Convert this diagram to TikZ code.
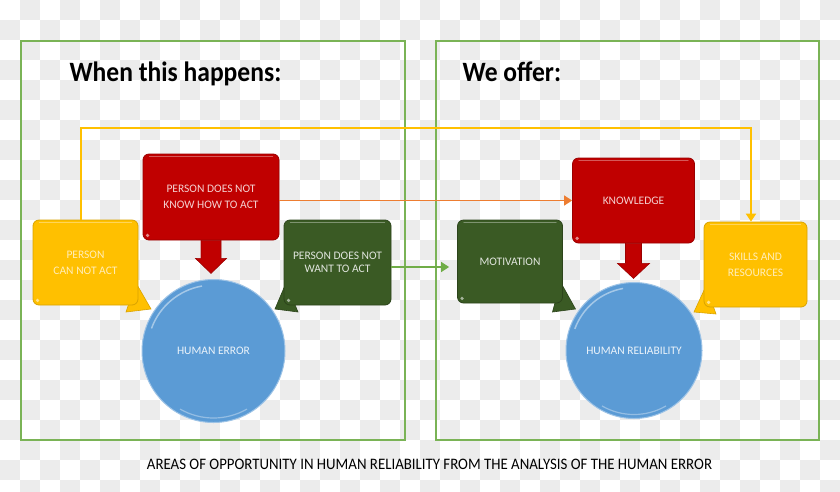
\documentclass[tikz,border=0pt]{standalone}
\usepackage{fontspec}
\setmainfont{Carlito}
\usetikzlibrary{arrows.meta,calc}
\definecolor{checkgrey}{HTML}{ECECEC}
\definecolor{framegreen}{HTML}{7AB356}
\definecolor{cyellow}{HTML}{FFC000}
\definecolor{cred}{HTML}{C00000}
\definecolor{cdgreen}{HTML}{3A5A24}
\definecolor{cblue}{HTML}{5B9BD5}
\definecolor{corange}{HTML}{ED7D31}
\definecolor{cgreen}{HTML}{70AD47}
\tikzset{
  frame/.style={draw=framegreen,line width=1.2pt},
  boxbase/.style={rectangle,rounded corners=6pt,line width=0.8pt,align=center,
    font=\fontsize{11.5}{16}\selectfont,inner sep=2pt},
  ybox/.style={boxbase,fill=cyellow,draw=cyellow!85!black,text=white!72!cyellow},
  rbox/.style={boxbase,fill=cred,draw=cred!80!black,text=white!82!cred},
  gbox/.style={boxbase,fill=cdgreen,draw=cdgreen!75!black,text=white!85!cdgreen},
  ball/.style={circle,fill=cblue,draw=cblue!60!white,line width=1pt,text=white!88!cblue,
    font=\fontsize{11.5}{13}\selectfont,inner sep=0pt},
  title/.style={anchor=base west,font=\fontsize{28}{30}\selectfont\bfseries,text=black},
  tip/.style={-{Triangle[length=8pt,width=10pt]}},
  yline/.style={draw=cyellow,line width=2.2pt},
  oline/.style={draw=corange,line width=1.6pt},
  gline/.style={draw=cgreen,line width=1.6pt},
  gloss/.style={draw=white,opacity=.35,line width=1.6pt,line cap=round}
}
\newcommand{\glossbox}[1]{%
  \draw[gloss] ($(#1.north west)+(7,3)$) -- ($(#1.north east)+(-7,3)$);
  \fill[white,opacity=.55] ($(#1.south west)+(5,-5)$) circle (1.8pt);}
\begin{document}
\begin{tikzpicture}[x=1pt,y=-1pt]
\useasboundingbox (0,0) rectangle (840,491);
% checkerboard background
\begin{scope}
\clip (0,0) rectangle (840,491);
\fill[white] (0,0) rectangle (840,491);
\foreach \i in {0,...,41}{
  \foreach \j in {0,...,24}{
    \pgfmathtruncatemacro\cbpar{mod(\i+\j,2)}
    \ifnum\cbpar=1 \fill[checkgrey] (\i*20,\j*20) rectangle ++(20,20);\fi
  }}
\end{scope}
% frames
\draw[frame] (21,41) rectangle (405,440);
\draw[frame] (436,41) rectangle (819,440);
% titles
\node[title] (t1) at (66,81) {\scalebox{0.913}[1]{When this happens:}};
\node[title] (t2) at (459,81) {\scalebox{0.913}[1]{We offer:}};
% circles
\node[ball,minimum size=143pt] (err) at (213.5,351) {HUMAN ERROR};
\node[ball,minimum size=136pt] (rel) at (634,350.5) {HUMAN RELIABILITY};
\draw[white,opacity=.45,line width=1.5pt] ($(err.center)+(200:66)$) arc[start angle=200,end angle=260,radius=66];
\draw[white,opacity=.45,line width=1.5pt] ($(rel.center)+(200:63)$) arc[start angle=200,end angle=260,radius=63];
\draw[white,opacity=.35,line width=1.2pt] ($(err.center)+(60:67)$) arc[start angle=60,end angle=120,radius=67];
\draw[white,opacity=.35,line width=1.2pt] ($(rel.center)+(60:64)$) arc[start angle=60,end angle=120,radius=64];
% boxes (positions)
\path (211,197) node[rbox,minimum width=136pt,minimum height=86pt] (red1) {PERSON DOES NOT\\KNOW HOW TO ACT};
\path (85.5,262.5) coordinate (yelc);
\path (337.5,262.5) coordinate (grnc);
\path (510,261.5) coordinate (motc);
\path (755.5,264.5) coordinate (skc);
% callout tails (drawn before the boxes)
\fill[cyellow,draw=cyellow!85!black,line width=.6pt] ($(yelc)+(52.5,42.5)+(-2,-22)$) -- ($(yelc)+(52.5,42.5)+(13,4)$) -- ($(yelc)+(52.5,42.5)+(-12,7)$) -- cycle;
\fill[cdgreen,draw=cdgreen!75!black,line width=.6pt] ($(grnc)+(-53.5,42.5)+(2,-22)$) -- ($(grnc)+(-53.5,42.5)+(-9,4)$) -- ($(grnc)+(-53.5,42.5)+(14,7)$) -- cycle;
\fill[cdgreen,draw=cdgreen!75!black,line width=.6pt] ($(motc)+(52.5,41.5)+(-2,-21)$) -- ($(motc)+(52.5,41.5)+(13,6)$) -- ($(motc)+(52.5,41.5)+(-10,9)$) -- cycle;
\fill[cyellow,draw=cyellow!85!black,line width=.6pt] ($(skc)+(-51.5,42.5)+(2,-21)$) -- ($(skc)+(-51.5,42.5)+(-10,5)$) -- ($(skc)+(-51.5,42.5)+(12,7)$) -- cycle;
\node[ybox,minimum width=105pt,minimum height=85pt] (yel1) at (yelc) {PERSON\\CAN NOT ACT};
\node[gbox,minimum width=107pt,minimum height=85pt,font=\fontsize{11.5}{12.5}\selectfont] (grn1) at (grnc) {PERSON DOES NOT\\WANT TO ACT};
\node[gbox,minimum width=105pt,minimum height=83pt] (mot) at (motc) {MOTIVATION};
\node[rbox,minimum width=122pt,minimum height=85pt] (know) at (633.5,200.5) {KNOWLEDGE};
\node[ybox,minimum width=103pt,minimum height=85pt] (skill) at (skc) {SKILLS AND\\RESOURCES};
\glossbox{red1}\glossbox{yel1}\glossbox{grn1}\glossbox{mot}\glossbox{know}\glossbox{skill}
% block arrows down
\fill[cred,draw=cred!80!black,line width=.6pt] ($(red1.south)+(-10,0)$) -- ++(0,18) -- ++(-5.5,0) -- ++(15.5,15) -- ++(15.5,-15) -- ++(-5.5,0) -- ++(0,-18) -- cycle;
\fill[cred,draw=cred!80!black,line width=.6pt] ($(know.south)+(-8,0)$) -- ++(0,20) -- ++(-8,0) -- ++(16,15) -- ++(16,-15) -- ++(-8,0) -- ++(0,-20) -- cycle;
% connectors
\coordinate (ya) at (81,128);
\coordinate (yb) at (751,128);
\draw[yline,tip] (yel1.north -| ya) -- (ya) -- (yb) -- (skill.north -| yb);
\draw[oline,tip] (red1.east |- know.west) -- (know.west);
\coordinate (ga) at (391,267);
\draw[gline,tip,shorten >=8pt] (grn1.east |- ga) -- (mot.west |- ga);
% caption
\node[anchor=base,font=\fontsize{16}{18}\selectfont] (cap) at (429.5,469) {\scalebox{0.928}[1]{AREAS OF OPPORTUNITY IN HUMAN RELIABILITY FROM THE ANALYSIS OF THE HUMAN ERROR}};
\end{tikzpicture}
\end{document}
